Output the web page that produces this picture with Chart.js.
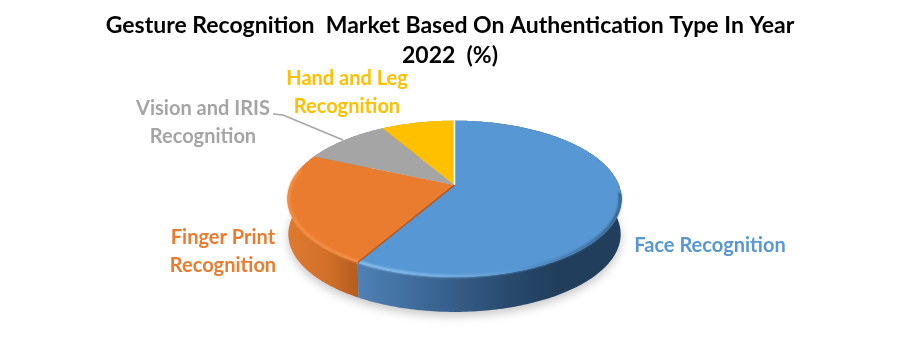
<!DOCTYPE html>
<html>
<head>
<meta charset="utf-8">
<title>Gesture Recognition Market</title>
<script src="https://cdn.jsdelivr.net/npm/chart.js@4"></script>
<style>
  html, body { margin: 0; padding: 0; background: #fff; }
  #wrap { width: 900px; height: 355px; }
</style>
</head>
<body>
<div id="wrap"><canvas id="myChart"></canvas></div>
<script>
const titulo = ['Gesture Recognition  Market Based On Authentication Type In Year', '2022  (%)'];
const categorias = ['Face Recognition', 'Finger Print Recognition', 'Vision and IRIS Recognition', 'Hand and Leg Recognition'];
const valores = [58.3, 23.3, 10, 8.4];
const colores = ['#5797d3', '#ea7c2f', '#a5a5a5', '#ffc000'];

// lineas de cada etiqueta, en el mismo orden que categorias
const etiquetas = [
    { lineas: ['Face Recognition'], x: 710, y: 246 },
    { lineas: ['Finger Print', 'Recognition'], x: 223, y: 238 },
    { lineas: ['Vision and IRIS', 'Recognition'], x: 203, y: 109 },
    { lineas: ['Hand and Leg', 'Recognition'], x: 347, y: 79 }
];

// proyeccion del disco: centro, semiejes y perspectiva
const pie = { cx: 454.5, cy: 185, a: 164.4, b: 75.7, k: 0.177, fondo: 35.5 };

function proyectar(ang, r) {
    const x = Math.cos(ang) * r, y = Math.sin(ang) * r;
    const w = 1 / (1 - pie.k * y);
    return [pie.cx + pie.a * x * w, pie.cy + pie.b * y * w];
}

function arco(ctx, ini, fin, r, dy, mover) {
    const pasos = Math.max(8, Math.ceil(Math.abs(fin - ini) * 60));
    for (let i = 0; i <= pasos; i++) {
        const p = proyectar(ini + (fin - ini) * i / pasos, r);
        if (i === 0 && mover) ctx.moveTo(p[0], p[1] + dy);
        else ctx.lineTo(p[0], p[1] + dy);
    }
}

function degradado(ctx, x0, x1, paradas) {
    const g = ctx.createLinearGradient(x0, 0, x1, 0);
    paradas.forEach(p => g.addColorStop(p[0], p[1]));
    return g;
}

const pie3d = {
    id: 'pie3d',
    beforeDatasetDraw(chart, args) {
        const ctx = chart.ctx;
        const arcos = args.meta.data;
        ctx.save();

        // sombra suave debajo
        ctx.save();
        ctx.filter = 'blur(5px)';
        ctx.fillStyle = 'rgba(0,0,0,0.22)';
        ctx.beginPath();
        arco(ctx, 0, Math.PI * 2, 0.995, pie.fondo + 4, true);
        ctx.fill();
        ctx.restore();

        // pared lateral
        const lados = [
            degradado(ctx, 358, 622, [[0, '#4f81b6'], [0.3, '#3a6491'], [0.55, '#2a4c70'], [0.75, '#213e5c'], [1, '#213e5c']]),
            degradado(ctx, 288, 358, [[0, '#e07a30'], [0.6, '#d06e28'], [1, '#b55c1e']]),
            '#8a8a8a',
            '#c99a00'
        ];
        arcos.forEach((el, i) => {
            ctx.fillStyle = lados[i];
            ctx.beginPath();
            arco(ctx, el.startAngle, el.endAngle, 1, 0, true);
            arco(ctx, el.endAngle, el.startAngle, 0.995, pie.fondo, false);
            ctx.closePath();
            ctx.fill();
        });

        // cara superior
        arcos.forEach((el, i) => {
            ctx.fillStyle = colores[i];
            ctx.beginPath();
            ctx.moveTo(pie.cx, pie.cy);
            arco(ctx, el.startAngle, el.endAngle, 1, 0, false);
            ctx.closePath();
            ctx.fill();
        });

        // bisel del borde frontal
        ctx.save();
        ctx.filter = 'blur(1px)';
        ctx.lineWidth = 2.5;
        const biseles = [
            degradado(ctx, 358, 622, [[0, '#93c8f2'], [0.35, '#7db4e6'], [0.6, '#5797d3'], [0.85, '#3f6f9f'], [1, '#2c5278']]),
            '#f6924a'
        ];
        [0, 1].forEach(i => {
            const el = arcos[i];
            ctx.strokeStyle = biseles[i];
            ctx.beginPath();
            arco(ctx, Math.max(el.startAngle, 0.1), Math.min(el.endAngle, 3.35), 0.992, 0, true);
            ctx.stroke();
        });
        ctx.restore();

        // lineas entre sectores
        const bordes = [[arcos[0].startAngle, '#fff', 1.5], [arcos[0].endAngle, '#b5561a', 1.5]];
        bordes.forEach(b => {
            const p = proyectar(b[0], 1);
            ctx.strokeStyle = b[1];
            ctx.lineWidth = b[2];
            ctx.beginPath();
            ctx.moveTo(pie.cx, pie.cy);
            ctx.lineTo(p[0], p[1]);
            ctx.stroke();
        });

        ctx.restore();
        return false;
    },
    afterDatasetsDraw(chart) {
        const ctx = chart.ctx;
        ctx.save();
        ctx.font = '700 20px Lato';
        ctx.textAlign = 'center';
        ctx.textBaseline = 'middle';
        etiquetas.forEach((et, i) => {
            ctx.fillStyle = colores[i];
            et.lineas.forEach((t, j) => ctx.fillText(t, et.x, et.y + j * 27.5));
        });
        // linea guia de Vision and IRIS
        ctx.strokeStyle = '#a5a5a5';
        ctx.lineWidth = 1.5;
        ctx.beginPath();
        ctx.moveTo(273, 114);
        ctx.lineTo(283, 115);
        ctx.lineTo(343, 140);
        ctx.stroke();
        ctx.restore();
    }
};

new Chart(document.querySelector('#myChart'), {
    type: 'pie',
    data: {
        labels: categorias,
        datasets: [{ data: valores, backgroundColor: colores, borderWidth: 0 }]
    },
    options: {
        responsive: true,
        maintainAspectRatio: false,
        animation: false,
        layout: { padding: 0 },
        plugins: {
            legend: { display: false },
            tooltip: { enabled: false },
            title: {
                display: true,
                text: titulo,
                color: '#000',
                font: { family: 'Lato', size: 23, weight: '700', lineHeight: 1.3 },
                padding: { top: 11, bottom: 0 }
            }
        }
    },
    plugins: [pie3d]
});
</script>
</body>
</html>
